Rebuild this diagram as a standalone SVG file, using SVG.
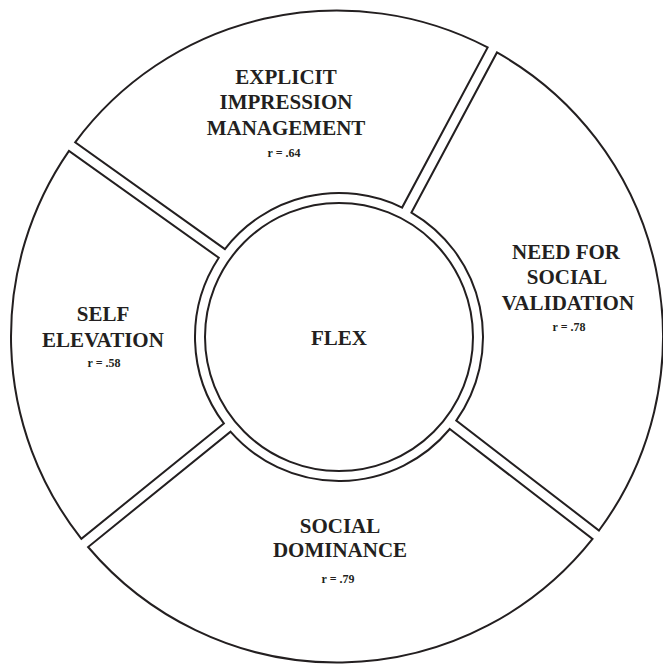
<svg xmlns="http://www.w3.org/2000/svg" width="663" height="667" viewBox="0 0 663 667">
<style>
.sec{fill:#fff;stroke:#231f20;stroke-width:2;stroke-linejoin:miter}
.lbl{font-family:"Liberation Serif","Times New Roman",serif;font-weight:bold;font-size:21px;fill:#231f20;text-anchor:middle}
.r{font-family:"Liberation Serif","Times New Roman",serif;font-weight:bold;font-size:12px;fill:#231f20;text-anchor:middle}
</style>
<rect width="663" height="667" fill="#fff"/>
<g id="connectors"></g>
<g id="explicit">
<path class="sec" d="M224.93,249.13 L75.17,142.30 A326,326 0 0 1 487.62,47.39 L402.10,207.56 A144,144 0 0 0 224.93,249.13 Z"/>
<text class="lbl" x="286" y="84">EXPLICIT</text>
<text class="lbl" x="286" y="109">IMPRESSION</text>
<text class="lbl" x="286" y="135">MANAGEMENT</text>
<text class="r" x="284" y="157">r = .64</text>
</g>
<g id="need">
<path class="sec" d="M411.46,212.56 L496.95,52.45 A326,326 0 0 1 598.97,530.50 L456.24,420.59 A144,144 0 0 0 411.46,212.56 Z"/>
<text class="lbl" x="566" y="259">NEED FOR</text>
<text class="lbl" x="567" y="284">SOCIAL</text>
<text class="lbl" x="568" y="310">VALIDATION</text>
<text class="r" x="569" y="331">r = .78</text>
</g>
<g id="dominance">
<path class="sec" d="M449.78,428.99 L592.53,538.92 A326,326 0 0 1 88.10,547.01 L230.51,431.68 A144,144 0 0 0 449.78,428.99 Z"/>
<text class="lbl" x="340" y="533">SOCIAL</text>
<text class="lbl" x="340" y="557">DOMINANCE</text>
<text class="r" x="338" y="583">r = .79</text>
</g>
<g id="self">
<path class="sec" d="M223.83,423.44 L81.38,538.80 A326,326 0 0 1 68.99,150.90 L218.77,257.75 A144,144 0 0 0 223.83,423.44 Z"/>
<text class="lbl" x="103" y="321">SELF</text>
<text class="lbl" x="103" y="347">ELEVATION</text>
<text class="r" x="104" y="367">r = .58</text>
</g>
<g id="flex">
<circle class="sec" cx="339" cy="337" r="134"/>
<text class="lbl" x="339" y="345">FLEX</text>
</g>
</svg>
